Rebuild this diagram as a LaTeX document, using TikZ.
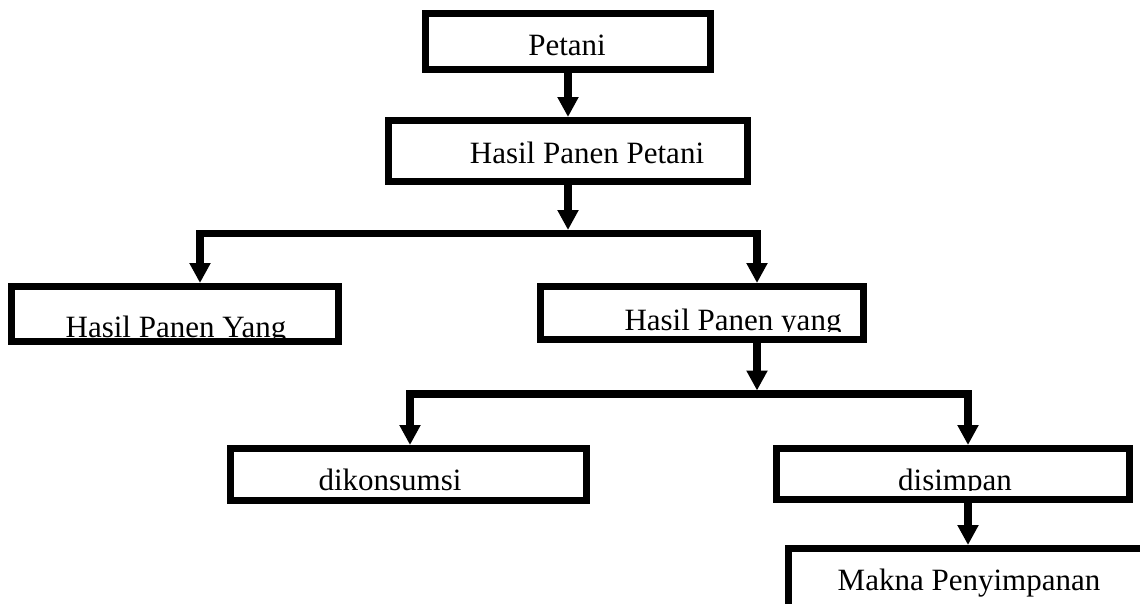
\documentclass[tikz,border=0pt]{standalone}
\usepackage{fontspec}
\setmainfont{Liberation Serif}
\usetikzlibrary{arrows.meta}
\tikzset{
  box/.style ={rectangle, draw=black, line width=7pt, fill=white, inner sep=0pt},
  lbl/.style ={anchor=base, inner sep=0pt, font=\fontsize{31}{36}\selectfont},
  e/.style   ={-{Triangle[length=20pt,width=20pt]}, line width=7.5pt, draw=black},
}
\begin{document}
\begin{tikzpicture}[x=1pt,y=-1pt]
\clip (0,0) rectangle (1140,603);
\fill[white] (0,0) rectangle (1140,603);
% boxes
\node[box, minimum width=285pt, minimum height=56pt] (petani) at (568,41.5) {};
\node[box, minimum width=359pt, minimum height=61pt] (hpp)    at (568,151) {};
\node[box, minimum width=327pt, minimum height=55pt] (hpyL)   at (175,314) {};
\node[box, minimum width=323pt, minimum height=53pt] (hpyR)   at (702,313) {};
\node[box, minimum width=356pt, minimum height=52pt] (kons)   at (408.5,474.5) {};
\node[box, minimum width=353pt, minimum height=51pt] (simpan) at (953,474) {};
\node[box, minimum width=368pt, minimum height=73pt] (makna)  at (972.5,585) {};
% labels (cut off at the bottom like the source)
\node[lbl] (petaniT) at (567,55) {Petani};
\node[lbl] (hppT) at (587,163) {Hasil Panen Petani};
\begin{scope}
\clip (8,280) rectangle (342,338);
\node[lbl] (hpyLT) at (176,337) {Hasil Panen Yang};
\end{scope}
\begin{scope}
\clip (537,280) rectangle (867,331);
\node[lbl] (hpyRT) at (733,330) {Hasil Panen yang};
\end{scope}
\begin{scope}
\clip (227,440) rectangle (590,490.5);
\node[lbl] (konsT) at (390,490) {dikonsumsi};
\end{scope}
\begin{scope}
\clip (773,440) rectangle (1133,490.5);
\node[lbl] (simpanT) at (955,490) {disimpan};
\end{scope}
\node[lbl] (maknaT) at (969,590) {Makna Penyimpanan};
% connectors
\coordinate (b1w) at (200,233.5);
\coordinate (b1e) at (757,233.5);
\coordinate (b2w) at (410,394);
\coordinate (b2e) at (968,394);
\draw[e] (petani.south) -- (hpp.north);
\draw[e, shorten >=3.5pt] (hpp.south) -- (hpp.south |- b1w);
\draw[e] (hpp.south |- b1w) -| (hpyL.north -| b1w);
\draw[e] (hpp.south |- b1w) -| (hpyR.north -| b1e);
\draw[e, shorten >=3.5pt] (hpyR.south -| b1e) -- (b1e |- b2w);
\draw[e] (b1e |- b2w) -| (kons.north -| b2w);
\draw[e] (b1e |- b2w) -| (simpan.north -| b2e);
\draw[e] (simpan.south -| b2e) -- (makna.north -| b2e);
\end{tikzpicture}
\end{document}
